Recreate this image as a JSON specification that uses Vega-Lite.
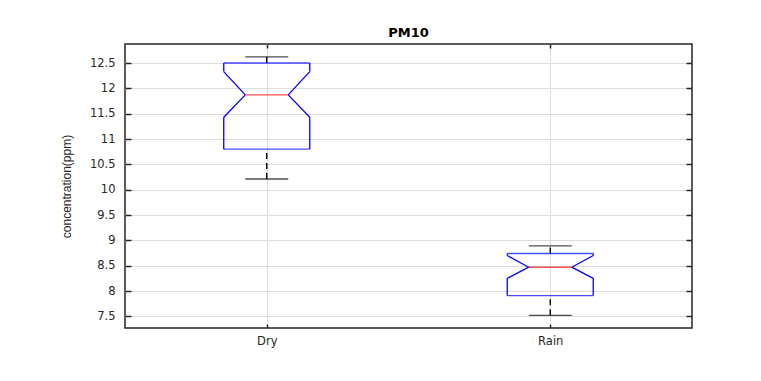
{
  "$schema": "https://vega.github.io/schema/vega-lite/v6.json",
  "autosize": {"type": "none"},
  "padding": {"left": 125, "top": 44, "right": 69, "bottom": 53},
  "width": 567,
  "height": 284,
  "background": "white",
  "title": {"text": "PM10", "font": "DejaVu Sans", "fontSize": 13, "fontWeight": "bold", "color": "#000000", "baseline": "alphabetic", "offset": -7},
  "data": {"values": [
    {"cond": "Dry", "lw": 10.21, "q1": 10.8, "nlo": 11.43, "med": 11.87, "nhi": 12.33, "q3": 12.5, "uw": 12.62},
    {"cond": "Rain", "lw": 7.52, "q1": 7.91, "nlo": 8.25, "med": 8.47, "nhi": 8.70, "q3": 8.74, "uw": 8.89}
  ]},
  "config": {
    "view": {"stroke": "#262626", "strokeWidth": 1.5},
    "axis": {
      "labelFont": "DejaVu Sans", "labelFontSize": 11.5, "labelColor": "#262626",
      "titleFont": "Liberation Sans", "titleFontSize": 12, "titleFontWeight": "normal", "titleColor": "#262626",
      "gridColor": "#dcdcdc", "gridWidth": 1, "gridOpacity": 1,
      "domain": false, "tickColor": "#262626", "tickWidth": 1.5
    }
  },
  "encoding": {
    "x": {"field": "cond", "type": "nominal", "scale": {"type": "point", "padding": 0.5, "domain": ["Dry", "Rain"]}, "sort": null, "axis": null}
  },
  "layer": [
    {
      "mark": {"type": "rule", "color": "#000000", "strokeWidth": 1.4, "strokeDash": [6, 4]},
      "encoding": {
        "x": {"field": "cond", "type": "nominal", "axis": {"orient": "bottom", "title": null, "labelAngle": 0, "grid": true, "tickSize": -4, "labelPadding": 11}},
        "y": {"field": "q3", "type": "quantitative", "scale": {"domain": [7.27, 12.875], "nice": false, "zero": false},
              "axis": {"orient": "left", "title": "concentration(ppm)", "format": "~f", "values": [7.5, 8, 8.5, 9, 9.5, 10, 10.5, 11, 11.5, 12, 12.5], "grid": true, "tickSize": -6, "labelPadding": 16, "titlePadding": 16}},
        "y2": {"field": "uw"}
      }
    },
    {
      "mark": {"type": "rule", "color": "#000000", "strokeWidth": 1.4, "strokeDash": [6, 4]},
      "encoding": {
        "x": {"field": "cond", "type": "nominal", "axis": {"orient": "top", "title": null, "labels": false, "grid": false, "tickSize": -4}},
        "y": {"field": "lw", "type": "quantitative", "axis": {"orient": "right", "title": null, "labels": false, "grid": false, "tickSize": -6, "values": [7.5, 8, 8.5, 9, 9.5, 10, 10.5, 11, 11.5, 12, 12.5]}},
        "y2": {"field": "q1"}
      }
    },
    {
      "mark": {"type": "tick", "color": "#000000", "size": 43, "thickness": 1.4},
      "encoding": {"y": {"field": "uw", "type": "quantitative", "axis": null}}
    },
    {
      "mark": {"type": "tick", "color": "#000000", "size": 43, "thickness": 1.4},
      "encoding": {"y": {"field": "lw", "type": "quantitative", "axis": null}}
    },
    {
      "mark": {"type": "tick", "color": "#0000ff", "size": 86, "thickness": 1.3},
      "encoding": {"y": {"field": "q1", "type": "quantitative", "axis": null}}
    },
    {
      "mark": {"type": "tick", "color": "#0000ff", "size": 86, "thickness": 1.3},
      "encoding": {"y": {"field": "q3", "type": "quantitative", "axis": null}}
    },
    {
      "mark": {"type": "rule", "color": "#0000ff", "strokeWidth": 1.3, "xOffset": -43},
      "encoding": {"y": {"field": "q1", "type": "quantitative", "axis": null}, "y2": {"field": "nlo"}}
    },
    {
      "mark": {"type": "rule", "color": "#0000ff", "strokeWidth": 1.3, "xOffset": 43},
      "encoding": {"y": {"field": "q1", "type": "quantitative", "axis": null}, "y2": {"field": "nlo"}}
    },
    {
      "mark": {"type": "rule", "color": "#0000ff", "strokeWidth": 1.3, "xOffset": -43},
      "encoding": {"y": {"field": "nhi", "type": "quantitative", "axis": null}, "y2": {"field": "q3"}}
    },
    {
      "mark": {"type": "rule", "color": "#0000ff", "strokeWidth": 1.3, "xOffset": 43},
      "encoding": {"y": {"field": "nhi", "type": "quantitative", "axis": null}, "y2": {"field": "q3"}}
    },
    {
      "mark": {"type": "rule", "color": "#0000ff", "strokeWidth": 1.3, "xOffset": -43, "x2Offset": -21.5},
      "encoding": {"x2": {"field": "cond"}, "y": {"field": "nlo", "type": "quantitative", "axis": null}, "y2": {"field": "med"}}
    },
    {
      "mark": {"type": "rule", "color": "#0000ff", "strokeWidth": 1.3, "xOffset": 43, "x2Offset": 21.5},
      "encoding": {"x2": {"field": "cond"}, "y": {"field": "nlo", "type": "quantitative", "axis": null}, "y2": {"field": "med"}}
    },
    {
      "mark": {"type": "rule", "color": "#0000ff", "strokeWidth": 1.3, "xOffset": -43, "x2Offset": -21.5},
      "encoding": {"x2": {"field": "cond"}, "y": {"field": "nhi", "type": "quantitative", "axis": null}, "y2": {"field": "med"}}
    },
    {
      "mark": {"type": "rule", "color": "#0000ff", "strokeWidth": 1.3, "xOffset": 43, "x2Offset": 21.5},
      "encoding": {"x2": {"field": "cond"}, "y": {"field": "nhi", "type": "quantitative", "axis": null}, "y2": {"field": "med"}}
    },
    {
      "mark": {"type": "tick", "color": "#ff0000", "size": 43, "thickness": 1.4},
      "encoding": {"y": {"field": "med", "type": "quantitative", "axis": null}}
    }
  ],
  "resolve": {"axis": {"x": "independent", "y": "independent"}}
}
